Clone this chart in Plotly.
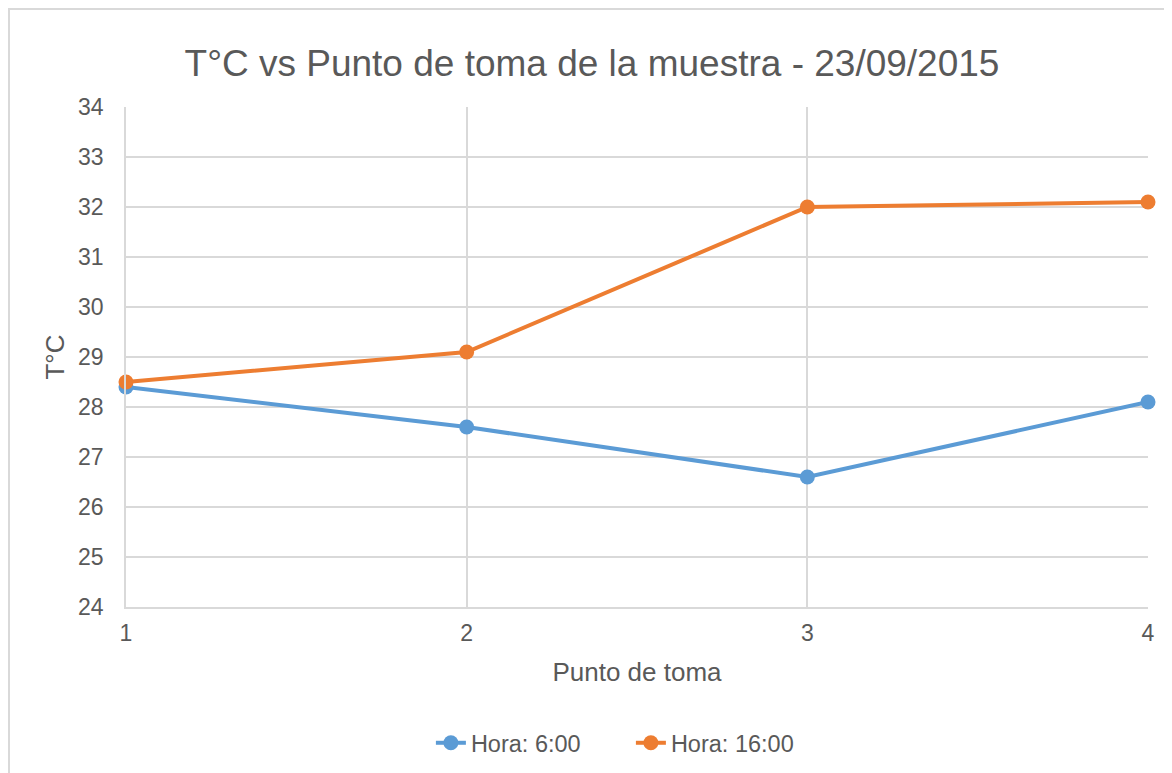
import plotly.graph_objects as go

puntos = [1, 2, 3, 4]
hora_6 = [28.4, 27.6, 26.6, 28.1]
hora_16 = [28.5, 29.1, 32.0, 32.1]
series_names = ["Hora: 6:00", "Hora: 16:00"]
colors = ["#5B9BD5", "#ED7D31"]

title_text = "T°C vs Punto de toma de la muestra - 23/09/2015"
x_title = "Punto de toma"
y_title = "T°C"

font_family = "Liberation Sans, Arial, sans-serif"
text_color = "#595959"
grid_color = "#D9D9D9"

fig = go.Figure()
for name, vals, col in zip(series_names, [hora_6, hora_16], colors):
    fig.add_trace(go.Scatter(
        x=puntos, y=vals, name=name, mode="lines+markers",
        line=dict(color=col, width=4),
        marker=dict(color=col, size=15),
        cliponaxis=False,
    ))

W, H = 1172, 773
ml, mr, mt, mb = 118, 32, 99, 174
pw, ph = W - ml - mr, H - mt - mb

fig.update_layout(
    width=W, height=H,
    margin=dict(l=ml, r=mr, t=mt, b=mb),
    paper_bgcolor="white", plot_bgcolor="white",
    font=dict(family=font_family, color=text_color, size=23),
    title=dict(text=title_text, x=584 / W, xanchor="center",
               y=1 - 55 / H, yanchor="middle", yref="container",
               font=dict(size=37, color=text_color)),
    xaxis=dict(range=[1, 4], tickvals=puntos, ticktext=[str(p) for p in puntos],
               showgrid=True, gridcolor=grid_color, gridwidth=1.5,
               showline=True, linecolor=grid_color, linewidth=1.5,
               zeroline=False, ticks="outside", tickcolor="rgba(0,0,0,0)", ticklen=5,
               tickfont=dict(size=23),
               title=dict(text=x_title, font=dict(size=26), standoff=17)),
    yaxis=dict(range=[24, 34], dtick=1, tick0=24,
               showgrid=True, gridcolor=grid_color, gridwidth=1.5,
               showline=True, linecolor=grid_color, linewidth=1.5,
               zeroline=False, ticks="outside", tickcolor="rgba(0,0,0,0)", ticklen=16,
               tickfont=dict(size=23),
               title=dict(text=y_title, font=dict(size=26), standoff=6)),
    legend=dict(orientation="h", x=579 / W, xanchor="center",
                y=-(735 - (H - mb)) / ph, yanchor="middle", yref="paper",
                font=dict(size=23.5, color=text_color),
                entrywidth=155, entrywidthmode="pixels"),
    showlegend=True,
)

# chart area border (left and top edges visible)
fig.add_shape(type="rect", xref="paper", yref="paper",
              x0=(1 - ml) / pw, x1=(W + 20 - ml) / pw,
              y0=-(H + 20 - (H - mb)) / ph, y1=((H - mb) - 1) / ph,
              line=dict(color=grid_color, width=2), fillcolor="rgba(0,0,0,0)",
              layer="below")

fig.write_html("out.html")
